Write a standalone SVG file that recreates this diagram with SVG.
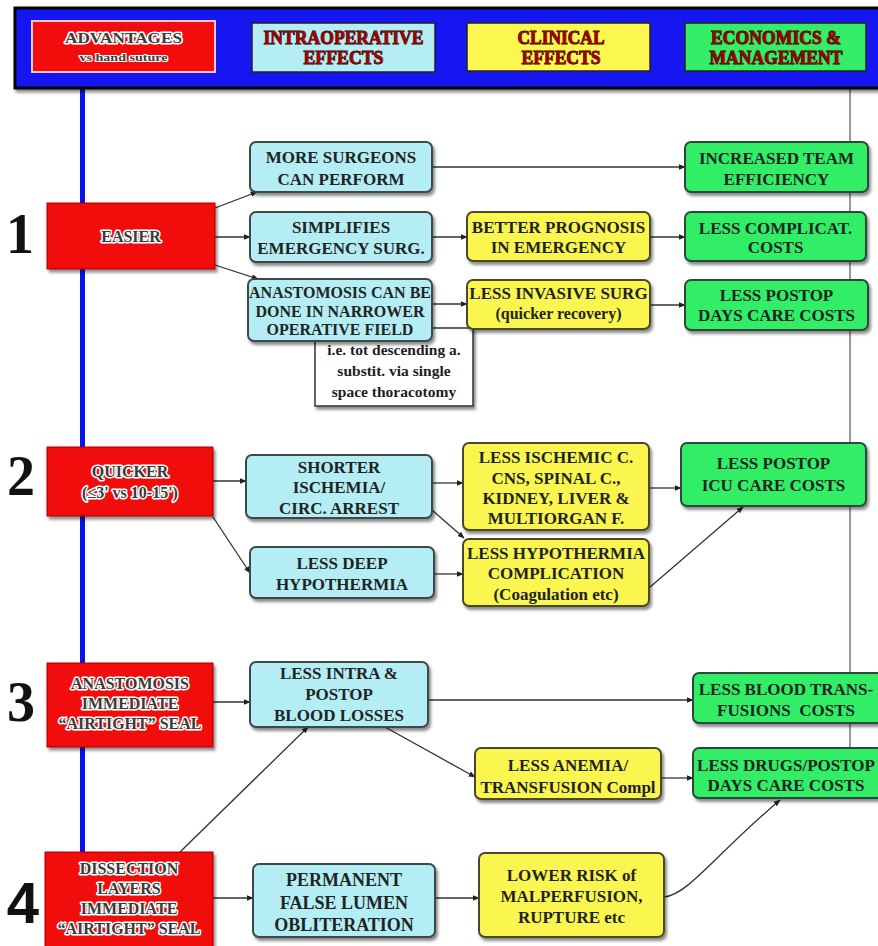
<svg xmlns="http://www.w3.org/2000/svg" width="878" height="946" viewBox="0 0 878 946">
<defs>
<filter id="sh" x="-10%" y="-10%" width="125%" height="135%">
<feDropShadow dx="2" dy="3" stdDeviation="1.8" flood-color="#000" flood-opacity="0.45"/>
</filter>
<marker id="ah" viewBox="0 0 10 10" refX="9" refY="5" markerWidth="7" markerHeight="7" orient="auto" markerUnits="userSpaceOnUse">
<path d="M0,1 L10,5 L0,9 z" fill="#222"/>
</marker>
<style>
text{font-family:"Liberation Serif","Times New Roman",serif;font-weight:bold;text-anchor:middle}
.cy{fill:#b4eef4;stroke:#3a4a4a;stroke-width:2}
.ye{fill:#fbf650;stroke:#4a4a2a;stroke-width:2}
.gr{fill:#33ee66;stroke:#2a4a3a;stroke-width:2}
.rd{fill:#f20c0c;stroke:#b00000;stroke-width:1}
.wh{fill:#ffffff;stroke:#333;stroke-width:1.5}
.t{font-size:17px;fill:#1e2424}
.t16{font-size:16px;fill:#1e2424}
.t18{font-size:18px;fill:#1e2424}
.n{font-size:15.5px;fill:#1e1e1e}
.r{font-size:16px;fill:#3a3a3a;stroke:#ffffff;stroke-width:3;paint-order:stroke;stroke-linejoin:round}
.h{font-size:19px;fill:#a00000;stroke:#200000;stroke-width:0.9;paint-order:stroke}
.num{font-size:56px;fill:#111}
.c{fill:none;stroke:#333;stroke-width:1.3;marker-end:url(#ah)}
</style>
</defs>
<rect width="878" height="946" fill="#ffffff"/>

<!-- background lines -->
<line x1="850" y1="88" x2="850" y2="750" stroke="#777" stroke-width="1.5"/>
<rect x="80" y="88" width="5" height="764" fill="#0a14e6"/>

<!-- header -->
<g id="header">
<rect x="15" y="8" width="880" height="80" fill="#1414f0" stroke="#000" stroke-width="3" filter="url(#sh)"/>
<g id="h-adv">
<rect x="32" y="21" width="183" height="51" fill="#f20c0c" stroke="#f0c8d0" stroke-width="2"/>
<text x="123.5" y="43" class="r" style="font-size:15px" textLength="117" lengthAdjust="spacingAndGlyphs">ADVANTAGES</text>
<text x="123.5" y="61" class="r" style="font-size:11px;stroke-width:2" textLength="88" lengthAdjust="spacingAndGlyphs">vs hand suture</text>
</g>
<g id="h-intra">
<rect x="252" y="23" width="183" height="49" fill="#b4eef4" stroke="#222" stroke-width="1.5"/>
<text x="343.5" y="44" class="h" textLength="160" lengthAdjust="spacingAndGlyphs">INTRAOPERATIVE</text>
<text x="343.5" y="64" class="h" textLength="80" lengthAdjust="spacingAndGlyphs">EFFECTS</text>
</g>
<g id="h-clin">
<rect x="467" y="23" width="183" height="48" fill="#fbf650" stroke="#222" stroke-width="1.5"/>
<text x="561" y="44" class="h" textLength="87" lengthAdjust="spacingAndGlyphs">CLINICAL</text>
<text x="561" y="64" class="h" textLength="79" lengthAdjust="spacingAndGlyphs">EFFECTS</text>
</g>
<g id="h-econ">
<rect x="685" y="23" width="181" height="48" fill="#33ee66" stroke="#222" stroke-width="1.5"/>
<text x="776" y="44" class="h" textLength="130" lengthAdjust="spacingAndGlyphs">ECONOMICS &amp;</text>
<text x="776" y="64" class="h" textLength="133" lengthAdjust="spacingAndGlyphs">MANAGEMENT</text>
</g>
</g>

<!-- row numbers -->
<g id="numbers">
<text x="20" y="253" class="num">1</text>
<text x="21" y="495" class="num">2</text>
<text x="21" y="721" class="num">3</text>
<text x="23" y="923" class="num" style="font-family:'Liberation Sans',Arial,sans-serif;font-size:58px">4</text>
</g>

<!-- connectors -->
<g id="connectors">
<path class="c" d="M215,208 L257,192"/>
<path class="c" d="M215,237 L250,237"/>
<path class="c" d="M215,265 L258,279"/>
<path class="c" d="M432,167 L685,167"/>
<path class="c" d="M432,237 L467,237"/>
<path class="c" d="M650,237 L685,237"/>
<path class="c" d="M432,304 L467,304"/>
<path class="c" d="M650,305 L685,305"/>
<path class="c" d="M213,481 L246,481"/>
<path class="c" d="M213,517 L250,573"/>
<path class="c" d="M432,483 L463,483"/>
<path class="c" d="M432,510 L464,538"/>
<path class="c" d="M434,574 L463,574"/>
<path class="c" d="M649,488 L681,488"/>
<path class="c" d="M649,588 L743,507"/>
<path class="c" d="M213,702 L250,702"/>
<path class="c" d="M428,700 L693,700"/>
<path class="c" d="M385,727 L475,777"/>
<path class="c" d="M661,778 L693,778"/>
<path class="c" d="M180,852 L308,727"/>
<path class="c" d="M213,898 L253,898"/>
<path class="c" d="M435,898 L479,898"/>
<path class="c" d="M664,897 C688,895 715,855 780,800"/>
</g>

<!-- note box (behind anastomosis box) -->
<g id="note">
<rect x="315" y="328" width="158" height="78" class="wh" filter="url(#sh)"/>
<text x="394" y="355" class="n">i.e. tot descending a.</text>
<text x="394" y="376" class="n">substit. via single</text>
<text x="394" y="397" class="n">space thoracotomy</text>
</g>

<!-- red nodes -->
<g id="easier">
<rect x="47" y="203" width="168" height="66" class="rd" filter="url(#sh)"/>
<text x="131" y="242" class="r">EASIER</text>
</g>
<g id="quicker">
<rect x="47" y="447" width="166" height="69" class="rd" filter="url(#sh)"/>
<text x="130" y="477" class="r">QUICKER</text>
<text x="130" y="498" class="r">(≤3' vs 10-15')</text>
</g>
<g id="anast-seal">
<rect x="47" y="663" width="166" height="84" class="rd" filter="url(#sh)"/>
<text x="130" y="689" class="r">ANASTOMOSIS</text>
<text x="130" y="709" class="r">IMMEDIATE</text>
<text x="130" y="729" class="r">“AIRTIGHT” SEAL</text>
</g>
<g id="dissection">
<rect x="45" y="852" width="168" height="100" class="rd" filter="url(#sh)"/>
<text x="129" y="874" class="r">DISSECTION</text>
<text x="129" y="894" class="r">LAYERS</text>
<text x="129" y="914" class="r">IMMEDIATE</text>
<text x="129" y="934" class="r">“AIRTIGHT” SEAL</text>
</g>

<!-- intraoperative nodes -->
<g id="more-surgeons">
<rect x="250" y="142" width="182" height="50" rx="6" class="cy" filter="url(#sh)"/>
<text x="341" y="163" class="t">MORE SURGEONS</text>
<text x="341" y="185" class="t">CAN PERFORM</text>
</g>
<g id="simplifies">
<rect x="250" y="212" width="182" height="50" rx="6" class="cy" filter="url(#sh)"/>
<text x="341" y="233" class="t">SIMPLIFIES</text>
<text x="341" y="254" class="t">EMERGENCY SURG.</text>
</g>
<g id="narrower">
<rect x="248" y="279" width="184" height="62" rx="6" class="cy" filter="url(#sh)"/>
<text x="340" y="298" class="t16">ANASTOMOSIS CAN BE</text>
<text x="340" y="317" class="t16">DONE IN NARROWER</text>
<text x="340" y="335" class="t16">OPERATIVE FIELD</text>
</g>
<g id="shorter">
<rect x="246" y="455" width="186" height="63" rx="6" class="cy" filter="url(#sh)"/>
<text x="339" y="473" class="t">SHORTER</text>
<text x="339" y="493" class="t">ISCHEMIA/</text>
<text x="339" y="514" class="t">CIRC. ARREST</text>
</g>
<g id="less-deep">
<rect x="250" y="547" width="184" height="51" rx="6" class="cy" filter="url(#sh)"/>
<text x="342" y="569" class="t">LESS DEEP</text>
<text x="342" y="590" class="t">HYPOTHERMIA</text>
</g>
<g id="blood-losses">
<rect x="250" y="662" width="178" height="65" rx="6" class="cy" filter="url(#sh)"/>
<text x="339" y="679" class="t">LESS INTRA &amp;</text>
<text x="339" y="700" class="t">POSTOP</text>
<text x="339" y="721" class="t">BLOOD LOSSES</text>
</g>
<g id="permanent">
<rect x="253" y="864" width="182" height="73" rx="6" class="cy" filter="url(#sh)"/>
<text x="344" y="886" class="t18">PERMANENT</text>
<text x="344" y="909" class="t18">FALSE LUMEN</text>
<text x="344" y="931" class="t18">OBLITERATION</text>
</g>

<!-- clinical nodes -->
<g id="better-prognosis">
<rect x="467" y="212" width="183" height="49" rx="6" class="ye" filter="url(#sh)"/>
<text x="558.5" y="233" class="t">BETTER PROGNOSIS</text>
<text x="558.5" y="253" class="t">IN EMERGENCY</text>
</g>
<g id="less-invasive">
<rect x="467" y="280" width="183" height="49" rx="6" class="ye" filter="url(#sh)"/>
<text x="558.5" y="299" class="t">LESS INVASIVE SURG</text>
<text x="558.5" y="319" class="t16">(quicker recovery)</text>
</g>
<g id="less-ischemic">
<rect x="463" y="443" width="186" height="87" rx="6" class="ye" filter="url(#sh)"/>
<text x="556" y="463" class="t">LESS ISCHEMIC C.</text>
<text x="556" y="484" class="t">CNS, SPINAL C.,</text>
<text x="556" y="504" class="t">KIDNEY, LIVER &amp;</text>
<text x="556" y="524" class="t">MULTIORGAN F.</text>
</g>
<g id="less-hypothermia">
<rect x="463" y="539" width="186" height="67" rx="6" class="ye" filter="url(#sh)"/>
<text x="556" y="559" class="t">LESS HYPOTHERMIA</text>
<text x="556" y="579" class="t">COMPLICATION</text>
<text x="556" y="600" class="t">(Coagulation etc)</text>
</g>
<g id="less-anemia">
<rect x="475" y="748" width="186" height="51" rx="6" class="ye" filter="url(#sh)"/>
<text x="568" y="771" class="t">LESS ANEMIA/</text>
<text x="568" y="793" class="t">TRANSFUSION Compl</text>
</g>
<g id="lower-risk">
<rect x="479" y="853" width="185" height="84" rx="6" class="ye" filter="url(#sh)"/>
<text x="571.5" y="881" class="t">LOWER RISK of</text>
<text x="571.5" y="902" class="t">MALPERFUSION,</text>
<text x="571.5" y="923" class="t">RUPTURE etc</text>
</g>

<!-- economics nodes -->
<g id="team-efficiency">
<rect x="685" y="142" width="183" height="50" rx="6" class="gr" filter="url(#sh)"/>
<text x="776.5" y="164" class="t">INCREASED TEAM</text>
<text x="776.5" y="185" class="t">EFFICIENCY</text>
</g>
<g id="complicat-costs">
<rect x="685" y="212" width="181" height="49" rx="6" class="gr" filter="url(#sh)"/>
<text x="775.5" y="234" class="t">LESS COMPLICAT.</text>
<text x="775.5" y="253" class="t">COSTS</text>
</g>
<g id="postop-days">
<rect x="685" y="280" width="183" height="50" rx="6" class="gr" filter="url(#sh)"/>
<text x="776.5" y="301" class="t">LESS POSTOP</text>
<text x="776.5" y="321" class="t">DAYS CARE COSTS</text>
</g>
<g id="icu-costs">
<rect x="681" y="443" width="185" height="63" rx="6" class="gr" filter="url(#sh)"/>
<text x="773.5" y="469" class="t">LESS POSTOP</text>
<text x="773.5" y="491" class="t">ICU CARE COSTS</text>
</g>
<g id="transfusion-costs">
<rect x="693" y="673" width="190" height="50" rx="6" class="gr" filter="url(#sh)"/>
<text x="786" y="695" class="t">LESS BLOOD TRANS-</text>
<text x="786" y="716" class="t" xml:space="preserve">FUSIONS  COSTS</text>
</g>
<g id="drugs-costs">
<rect x="693" y="748" width="190" height="50" rx="6" class="gr" filter="url(#sh)"/>
<text x="786" y="771" class="t">LESS DRUGS/POSTOP</text>
<text x="786" y="791" class="t">DAYS CARE COSTS</text>
</g>
</svg>
